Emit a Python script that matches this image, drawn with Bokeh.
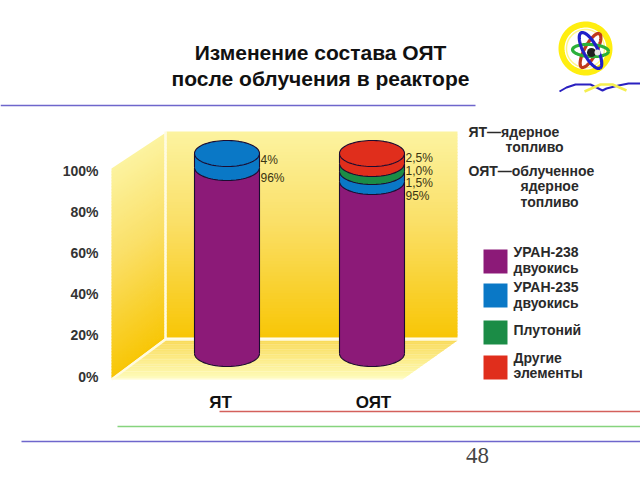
import numpy as np
from bokeh.plotting import figure
from bokeh.models import Range1d, LinearAxis, FixedTicker, PrintfTickFormatter
from bokeh.core.properties import value
from bokeh.embed import file_html
from bokeh.resources import INLINE

categories = ["ЯТ", "ОЯТ"]
series_names = ["УРАН-238 двуокись", "УРАН-235 двуокись", "Плутоний", "Другие элементы"]
series_colors = ["#8c1a78", "#0a78c6", "#1b8c46", "#e02e1c"]
# Band heights as they are drawn in the picture (the bands are exaggerated there)
drawn_u238 = [93.0, 86.0]
drawn_u235 = [7.0, 5.0]
drawn_pu = [0.0, 4.0]
drawn_other = [0.0, 5.0]
# Value labels as printed next to the cylinders
labels_yat = ["4%", "96%"]
labels_oyat = ["2,5%", "1,0%", "1,5%", "95%"]
axis_ticks = [0, 20, 40, 60, 80, 100]
# Category captions sit slightly off the cylinder centres in the picture
caption_ticks = [-0.045, 1.01]

W, H = 640, 480
FONT = value("Liberation Sans")

# Screen geometry: page pixel -> data
PX_CAT0, PX_PER_CAT = 226.5, 145.0
PY_ZERO, PX_PER_PCT = 353.0, 2.0
def cat_x(px): return (px - PX_CAT0) / PX_PER_CAT
def pct_y(py): return (PY_ZERO - py) / PX_PER_PCT

p = figure(width=W, height=H, output_backend="svg", toolbar_location=None,
           x_range=Range1d(cat_x(0), cat_x(W)), y_range=Range1d(pct_y(H), pct_y(0)),
           min_border=0, min_border_left=0, min_border_right=0, min_border_top=0, min_border_bottom=0,
           x_axis_type=None, y_axis_type=None, outline_line_color=None)
p.grid.visible = False
p.background_fill_color = "white"
p.border_fill_color = "white"
p.extra_x_ranges["px"] = Range1d(0, W)
p.extra_y_ranges["px"] = Range1d(H, 0)
# Value axis sits with the floor's front edge: 0% at 376, 100% at 170
a_per = (376 - 170) / 100
p.extra_y_ranges["axis"] = Range1d((376 - H) / a_per, 376 / a_per)
PX = dict(x_range_name="px", y_range_name="px")

def lerp(a, b, t): return a + (b - a) * t
def hex2(c): return np.array([int(c[i:i+2], 16) for i in (1, 3, 5)], float)
def mix(c0, c1, t):
    v = lerp(hex2(c0), hex2(c1), t)
    return "#%02x%02x%02x" % tuple(int(round(k)) for k in v)

def gradient(tl, tr, bl, br, c_stops, n=70):
    """Parallel strips between the top edge (tl, tr) and the bottom edge (bl, br)."""
    xs, ys, cs = [], [], []
    for i in range(n):
        t0, t1 = i / n, (i + 1.3) / n
        t1 = min(t1, 1)
        xs.append([lerp(tl[0], bl[0], t0), lerp(tr[0], br[0], t0), lerp(tr[0], br[0], t1), lerp(tl[0], bl[0], t1)])
        ys.append([lerp(tl[1], bl[1], t0), lerp(tr[1], br[1], t0), lerp(tr[1], br[1], t1), lerp(tl[1], bl[1], t1)])
        tm = (i + .5) / n
        for (a, ca), (b, cb) in zip(c_stops[:-1], c_stops[1:]):
            if a <= tm <= b:
                cs.append(mix(ca, cb, (tm - a) / (b - a)))
                break
    p.patches(xs, ys, fill_color=cs, line_color=None, **PX)

wall_stops = [(0, "#fcf3a0"), (.45, "#fadf66"), (.8, "#f9cf28"), (1, "#f8c606")]
# back wall
gradient((166, 131), (457, 131), (166, 337), (457, 337), wall_stops)
# side wall
gradient((111, 168), (164, 133), (111, 378), (164, 338), wall_stops)
# floor
gradient((164, 340), (457, 340), (111, 379), (402, 379),
         [(0, "#f8d648"), (.45, "#fbe878"), (.9, "#fdf8a8"), (1, "#fffcc8")])
# white joins
p.line([165, 165], [131, 339], line_color="#fffbe0", line_width=2.2, **PX)
p.line([165, 457], [339, 339], line_color="#fffbe0", line_width=2.2, **PX)
p.line([165, 111], [339, 379], line_color="#fffbe0", line_width=2.2, **PX)

# Cylinders
RX = 32.5 / PX_PER_CAT
RY = 13.0 / PX_PER_PCT
OUT = "#1c0c30"
theta = np.linspace(0, np.pi, 40)
stack = [drawn_u238, drawn_u235, drawn_pu, drawn_other]
for ci in range(len(categories)):
    base = 0.0
    top_color = None
    for si, vals in enumerate(stack):
        h = vals[ci]
        if h <= 0:
            continue
        lower_x = ci - RX * np.cos(theta)
        lower_y = base - RY * np.sin(theta)
        xs = np.concatenate([lower_x, [ci + RX], [ci - RX]])
        ys = np.concatenate([lower_y, [base + h], [base + h]])
        p.patch(xs, ys, fill_color=series_colors[si], line_color=None)
        p.line(lower_x, lower_y, line_color=OUT, line_width=1.1)
        p.line([ci - RX, ci - RX], [base, base + h], line_color=OUT, line_width=1.1)
        p.line([ci + RX, ci + RX], [base, base + h], line_color=OUT, line_width=1.1)
        base += h
        top_color = series_colors[si]
    # top cap
    tx = ci + RX * np.cos(np.linspace(0, 2 * np.pi, 80))
    ty = base + RY * np.sin(np.linspace(0, 2 * np.pi, 80))
    p.patch(tx, ty, fill_color=top_color, line_color=OUT, line_width=1.1)

# Axes
yaxis = LinearAxis(y_range_name="axis", ticker=FixedTicker(ticks=axis_ticks),
                   formatter=PrintfTickFormatter(format="%d%%"), fixed_location=cat_x(98))
yaxis.axis_line_color = None
yaxis.major_tick_line_color = None
yaxis.minor_tick_line_color = None
yaxis.major_label_standoff = 0
yaxis.major_tick_in = 0
yaxis.major_tick_out = 0
yaxis.major_label_text_font = "Liberation Sans"
yaxis.major_label_text_font_style = "bold"
yaxis.major_label_text_font_size = "14px"
yaxis.major_label_text_color = "#333333"
p.add_layout(yaxis, "left")

xaxis = LinearAxis(ticker=FixedTicker(ticks=caption_ticks),
                   major_label_overrides=dict(zip(caption_ticks, categories)),
                   fixed_location=pct_y(392))
xaxis.axis_line_color = None
xaxis.major_tick_line_color = None
xaxis.minor_tick_line_color = None
xaxis.major_label_standoff = 0
xaxis.major_tick_in = 0
xaxis.major_tick_out = 0
xaxis.major_label_text_font = "Liberation Sans"
xaxis.major_label_text_font_style = "bold"
xaxis.major_label_text_font_size = "17px"
xaxis.major_label_text_color = "#111111"
p.add_layout(xaxis, "below")

def txt(x, y, s, size="14px", style="bold", color="#2a2a2a", align="left", font=FONT):
    p.text([x], [y], text=[s], text_font=font, text_font_size=size, text_font_style=style,
           text_color=color, text_align=align, text_baseline="middle", **PX)

# Value labels
for lab, yy in zip(labels_yat, [159, 177]):
    txt(260, yy, lab, size="12px", style="normal", color="#3a3412")
for lab, yy in zip(labels_oyat, [157, 170, 182, 195]):
    txt(405, yy, lab, size="12px", style="normal", color="#3a3412")

# Title
txt(320, 52, "Изменение состава ОЯТ", size="21px", color="#111111", align="center")
txt(320, 78, "после облучения в реакторе", size="21px", color="#111111", align="center")

# Definitions
txt(468, 131, "ЯТ—ядерное")
txt(505, 146, "топливо")
txt(468, 170, "ОЯТ—облученное")
txt(520, 185, "ядерное")
txt(520, 201, "топливо")

# Legend
sw_top = [249, 283, 320, 355]
leg_lines = [("УРАН-238", "двуокись"), ("УРАН-235", "двуокись"), ("Плутоний",), ("Другие", "элементы")]
leg_y = [(251, 267), (286, 302), (329,), (357, 372)]
for top, col, lines, ys in zip(sw_top, series_colors, leg_lines, leg_y):
    p.quad(left=[483], right=[507], top=[top], bottom=[top + 24], fill_color=col, line_color=None, **PX)
    for s, yy in zip(lines, ys):
        txt(513, yy, s)

# Rules
p.line([0, 475], [105, 105], line_color="#6e66cc", line_width=1.4, **PX)
p.line([219, W], [411, 411], line_color="#d4605c", line_width=1.3, **PX)
p.line([117, W], [426, 426], line_color="#86d47e", line_width=1.3, **PX)
p.line([21, W], [441, 441], line_color="#6e66cc", line_width=1.4, **PX)
txt(477, 455, "48", size="23px", style="normal", color="#444444", align="center", font=value("Liberation Serif"))

# Logo
t = np.linspace(0, 2 * np.pi, 90)
p.line(585 + 24 * np.cos(t), 48 + 24 * np.sin(t), line_color="#ffee10", line_width=6, **PX)
p.line(585 + 19 * np.cos(t), 48 + 19 * np.sin(t), line_color="#fff68a", line_width=1.5, **PX)
def orbit(cx, cy, a, b, ang, col, lw=3.2):
    ca, sa = np.cos(ang), np.sin(ang)
    ex, ey = a * np.cos(t), b * np.sin(t)
    p.line(cx + ex * ca - ey * sa, cy + ex * sa + ey * ca, line_color=col, line_width=lw, **PX)
orbit(590, 50, 19, 6, np.radians(-62), "#c0391c")
orbit(590, 50, 18, 6, np.radians(3), "#2cb03a")
orbit(590, 50, 20, 7, np.radians(62), "#2020c8")
p.circle([591], [52], radius=4.5, fill_color="#202020", line_color=None, **PX)
p.circle([597], [52], radius=3, fill_color="#e8e8e8", line_color=None, **PX)
p.line([559, 566, 575, 590, 602, 606, 618, 628, 640], [91, 87, 84, 84, 90, 88, 85, 83, 83],
       line_color="#2a20c0", line_width=2, **PX)
p.line([584, 600, 612, 626], [91, 84, 84, 90], line_color="#f4ee50", line_width=2.5, **PX)

open("out.html", "w").write(file_html(p, INLINE))
